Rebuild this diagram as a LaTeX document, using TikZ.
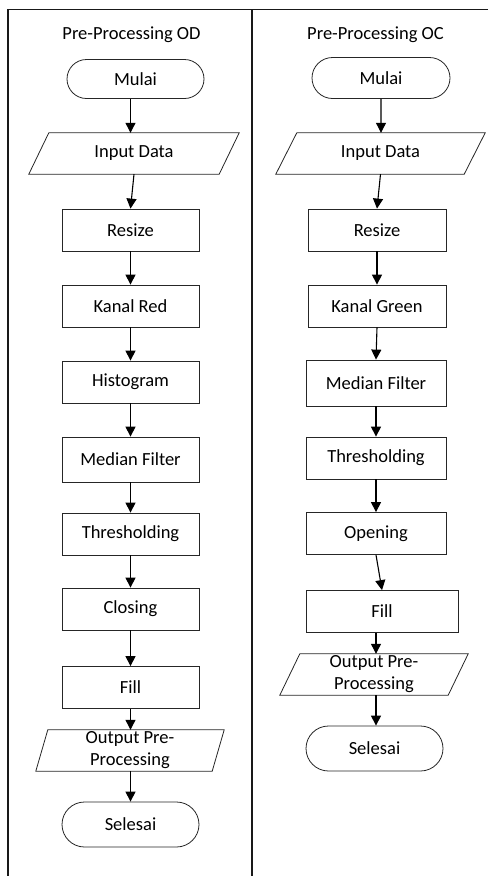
\documentclass[tikz,border=0pt]{standalone}
\usepackage{fontspec}
\setmainfont{Carlito}
\usetikzlibrary{shapes.misc,arrows.meta}
\newcommand{\myfs}{\fontsize{18.5}{22}\selectfont}
\newcommand{\paral}[2]{\draw[boxline] ([xshift=#2pt]#1.north west) -- ([xshift=#2pt]#1.north east) -- ([xshift=-#2pt]#1.south east) -- ([xshift=-#2pt]#1.south west) -- cycle;}
\tikzset{
  boxline/.style={draw=black!85, line width=0.8pt},
  procbox/.style={boxline, rectangle, minimum width=137pt, minimum height=42pt, inner sep=0pt, font=\myfs},
  termbox/.style={boxline, rounded rectangle, minimum width=137pt, minimum height=42pt, inner sep=0pt, font=\myfs},
  iobox/.style={rectangle, minimum height=41pt, inner sep=0pt, align=center, font=\myfs},
  titletext/.style={inner sep=0pt, font=\myfs},
  arr/.style={-{Triangle[length=10pt,width=10pt]}, line width=1.1pt, black},
  frameline/.style={line width=1.8pt, black!90}
}
\begin{document}
\begin{tikzpicture}[x=1pt,y=-1pt]
\useasboundingbox (0,0) rectangle (488,876);
\draw[frameline] (488,9.5) -- (8,9.5) -- (8,876);
\draw[frameline] (252,9.5) -- (252,876);

% left column
\node[titletext] (L0) at (131.5,35) {Pre-Processing OD};
\node[termbox, minimum height=39pt] (L1) at (135.5,79) {Mulai};
\node[iobox, minimum width=190pt] (L2) at (134,153.5) {Input Data};
\paral{L2}{10}
\node[procbox] (L3) at (130.5,230) {Resize};
\node[procbox] (L4) at (130.5,306) {Kanal Red};
\node[procbox] (L5) at (130.5,382) {Histogram};
\node[procbox, minimum height=45pt] (L6) at (130.5,459.5) {Median Filter};
\node[procbox] (L7) at (130.5,534) {Thresholding};
\node[procbox] (L8) at (130.5,609) {Closing};
\node[procbox] (L9) at (130.5,687.5) {Fill};
\node[iobox, minimum width=176pt] (L10) at (130,750.5) {Output Pre-\\Processing};
\paral{L10}{6}
\node[termbox, minimum height=45pt] (L11) at (130.5,824.5) {Selesai};

\draw[arr] (L1.south -| L3) -- (L2.north -| L3);
\draw[arr] (L2.south) -- (L3.north);
\draw[arr] (L3) -- (L4);
\draw[arr] (L4) -- (L5);
\draw[arr] (L5) -- (L6);
\draw[arr] (L6) -- (L7);
\draw[arr] (L7) -- (L8);
\draw[arr] (L8) -- (L9);
\draw[arr] (L9.south) -- (L9.south |- L10.north);
\draw[arr] (L10.south -| L11) -- (L11.north);

% right column
\node[titletext] (R0) at (375.5,35) {Pre-Processing OC};
\node[termbox, minimum width=138pt, minimum height=41pt] (R1) at (381,78) {Mulai};
\node[iobox, minimum width=188pt] (R2) at (380.5,153.5) {Input Data};
\paral{R2}{10.5}
\node[procbox, minimum width=138pt] (R3) at (377,230) {Resize};
\node[procbox, minimum width=138pt] (R4) at (377,306) {Kanal Green};
\node[procbox, minimum width=140pt, minimum height=46pt] (R5) at (376,383) {Median Filter};
\node[procbox, minimum width=140pt] (R6) at (376,458) {Thresholding};
\node[procbox, minimum width=140pt] (R7) at (376,533.5) {Opening};
\node[procbox, minimum width=152pt] (R8) at (382,611.5) {Fill};
\node[iobox, minimum width=168pt] (R9) at (374,674.5) {Output Pre-\\Processing};
\paral{R9}{10}
\node[termbox, minimum height=45pt] (R10) at (374.5,748.5) {Selesai};

\draw[arr] (R1) -- (R1 |- R2.north);
\draw[arr] (R2.south) -- (R3.north);
\draw[arr] (R3) -- (R4);
\draw[arr] (R4.south) -- (R5.north);
\draw[arr] (R5) -- (R6);
\draw[arr] (R6) -- (R7);
\draw[arr] (R7.south) -- (R8.north);
\draw[arr] (R8.south -| R6) -- (R9.north -| R6);
\draw[arr] (R9.south -| R6) -- (R10.north -| R6);
\end{tikzpicture}
\end{document}
